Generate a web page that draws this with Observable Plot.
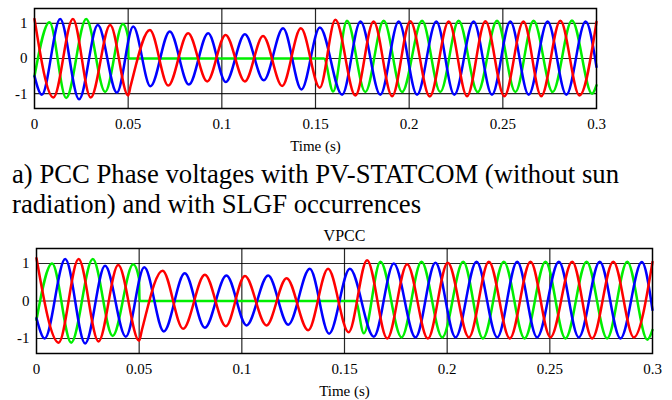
<!DOCTYPE html>
<html>
<head>
<meta charset="utf-8">
<script src="https://cdn.jsdelivr.net/npm/d3@7"></script>
<script src="https://cdn.jsdelivr.net/npm/@observablehq/plot@0.6"></script>
<style>
  html, body { margin: 0; padding: 0; background: #fff; }
  #wrap { position: relative; width: 672px; height: 400px; overflow: hidden; background: #fff; }
  #top { position: absolute; left: 0; top: 0; }
  #cap { position: absolute; left: 12px; top: 160px; font-family: "Liberation Serif", "Times New Roman", serif; font-size: 26.7px; line-height: 29.5px; color: #000; white-space: nowrap; }
  #bot { position: absolute; left: 0; top: 222px; }
  svg { display: block; }
</style>
</head>
<body>
<div id="wrap">
  <div id="top"></div>
  <div id="cap">a) PCC Phase voltages with PV-STATCOM (without sun<br>radiation) and with SLGF occurrences</div>
  <div id="bot"></div>
</div>
<script>
// Tick values and labels
const xTicks = [0, 0.05, 0.1, 0.15, 0.2, 0.25, 0.3];
const xTickLabels = ["0", "0.05", "0.1", "0.15", "0.2", "0.25", "0.3"];
const xGrid = [0.05, 0.1, 0.15, 0.2, 0.25];
const yTicks = [-1, 0, 1];
const yTickLabels = ["-1", "0", "1"];
const xLabel = "Time (s)";
const bottomTitle = "VPCC";

// Top panel: [time (s), voltage (pu)] at waveform peaks/troughs
const topRed = [[0,1.12],[0.0101,-1.11],[0.0205,1.12],[0.030,-1.11],[0.0404,0.95],[0.05,-1.05],[0.0513,-0.78],
  [0.0616,0.81],[0.0714,-0.77],[0.082,0.72],[0.0922,-0.65],[0.102,0.67],[0.1123,-0.65],[0.122,0.64],[0.1322,-0.78],
  [0.1422,0.86],[0.1523,-0.83],[0.1606,1.1],[0.1713,-1.05],[0.181,1.05],[0.1909,-1.07],[0.2006,1.06],[0.211,-1.08],
  [0.2211,1.05],[0.2309,-1.07],[0.2407,1.06],[0.2508,-1.07],[0.261,1.05],[0.2705,-1.07],[0.2807,1.07],[0.2909,-1.05],[0.3,1.04]];
const topBlue = [[0,-0.5],[0.0039,-1.03],[0.0137,1.12],[0.0238,-1.16],[0.0338,0.95],[0.044,-0.97],[0.0527,0.91],
  [0.0619,-0.79],[0.0722,0.77],[0.0824,-0.74],[0.0927,0.72],[0.1021,-0.67],[0.1123,0.69],[0.1224,-0.62],[0.1327,0.86],
  [0.1425,-0.88],[0.1523,0.88],[0.1642,-1.03],[0.174,1.05],[0.1846,-1.03],[0.1944,1.05],[0.2042,-1.03],[0.2145,1.05],
  [0.2241,-1.03],[0.2344,1.05],[0.2442,-1.03],[0.254,1.05],[0.2638,-1.03],[0.2739,1.05],[0.2839,-1.03],[0.2942,1.05],[0.3,-0.24]];
const topGreen = [[0,-0.5],[0.008,1.03],[0.0169,-1.12],[0.0276,1.12],[0.0377,-0.95],[0.0472,0.98],[0.0499,0.62],[0.0502,0],
  [0.1545,0],[0.1594,-0.94],[0.1668,1.07],[0.1766,-0.95],[0.1864,1.07],[0.1962,-0.95],[0.2069,1.07],[0.2166,-0.95],
  [0.2264,1.07],[0.2366,-0.95],[0.2469,1.07],[0.2567,-0.95],[0.2664,1.07],[0.2766,-0.95],[0.2869,1.08],[0.2976,-1.0],[0.3,-0.76]];

// Bottom panel (VPCC)
const botRed = [[0,1.14],[0.0108,-1.11],[0.0205,1.12],[0.0302,-1.08],[0.0398,0.96],[0.05,-1.06],[0.0513,-0.78],
  [0.0614,0.81],[0.0714,-0.74],[0.082,0.70],[0.0922,-0.67],[0.1015,0.67],[0.112,-0.65],[0.1218,0.61],[0.1323,-0.78],
  [0.142,0.86],[0.152,-0.83],[0.161,1.09],[0.1708,-1.0],[0.1805,0.98],[0.1906,-1.0],[0.2003,1.02],[0.2106,-0.97],
  [0.2203,1.05],[0.2305,-1.0],[0.2406,1.05],[0.2503,-0.97],[0.2609,1.05],[0.2706,-1.0],[0.2809,1.05],[0.2909,-0.97],[0.3,1.04]];
const botBlue = [[0,-0.46],[0.004,-1.0],[0.014,1.12],[0.0237,-1.13],[0.0334,0.94],[0.0435,-0.95],[0.0525,0.9],
  [0.062,-0.81],[0.0722,0.74],[0.082,-0.71],[0.0925,0.68],[0.1023,-0.65],[0.1128,0.68],[0.1226,-0.63],[0.1331,0.86],
  [0.1425,-0.87],[0.1526,0.86],[0.1643,-0.95],[0.174,1.0],[0.1846,-0.97],[0.1943,1.02],[0.2041,-0.97],[0.2143,1.05],
  [0.2244,-0.97],[0.2341,1.05],[0.2438,-0.97],[0.2544,1.05],[0.2641,-0.97],[0.2743,1.05],[0.2844,-1.0],[0.2948,1.04],[0.3,-0.24]];
const botGreen = [[0,-0.5],[0.0076,1.0],[0.0169,-1.11],[0.0274,1.12],[0.0371,-0.93],[0.0471,0.98],[0.0499,0.6],[0.0502,0],
  [0.1554,0],[0.1594,-0.86],[0.1675,1.05],[0.1778,-0.97],[0.1875,1.05],[0.1976,-0.97],[0.2078,1.05],[0.2174,-1.0],
  [0.2276,1.05],[0.2377,-1.0],[0.2479,1.05],[0.2576,-1.0],[0.2679,1.05],[0.2779,-1.0],[0.2877,1.05],[0.2975,-1.03],[0.3,-0.77]];

const colors = { red: "#ff0000", green: "#00ee00", blue: "#0000ff" };

function panel({red, green, blue, width, height, marginLeft, marginRight, marginTop, marginBottom, yDomain, title}) {
  const lineOpts = (c) => ({x: d => d[0], y: d => d[1], stroke: c, strokeWidth: 2.5, curve: "monotone-x"});
  const marks = [
    Plot.gridX(xGrid, {stroke: "#000", strokeOpacity: 0.85, strokeWidth: 1.2}),
    Plot.gridY(yTicks, {stroke: "#000", strokeOpacity: 0.85, strokeWidth: 1.2}),
    Plot.line(green, lineOpts(colors.green)),
    Plot.line(blue, lineOpts(colors.blue)),
    Plot.line(red, lineOpts(colors.red)),
    Plot.frame({stroke: "#000", strokeWidth: 1.5}),
    Plot.axisX(xTicks, {tickSize: 0, tickPadding: 10, fontSize: 15, tickFormat: d => xTickLabels[xTicks.indexOf(d)], label: null}),
    Plot.axisY(yTicks, {tickSize: 0, tickPadding: 7, fontSize: 15, tickFormat: d => yTickLabels[yTicks.indexOf(d)], label: null}),
    Plot.text([xLabel], {frameAnchor: "bottom", lineAnchor: "middle", dy: 38, fontSize: 15, text: d => d})
  ];
  if (title) marks.push(Plot.text([title], {frameAnchor: "top", lineAnchor: "middle", dy: -13, fontSize: 16, text: d => d}));
  return Plot.plot({
    width, height, marginLeft, marginRight, marginTop, marginBottom,
    style: {fontFamily: "'Liberation Serif', 'Times New Roman', serif", fontSize: "15px", background: "#fff", color: "#000"},
    x: {domain: [0, 0.3]},
    y: {domain: yDomain},
    marks
  });
}

document.getElementById("top").appendChild(panel({
  red: topRed, green: topGreen, blue: topBlue,
  width: 672, height: 155, marginLeft: 34, marginRight: 76, marginTop: 8, marginBottom: 47,
  yDomain: [-1.42, 1.42]
}));
document.getElementById("bot").appendChild(panel({
  red: botRed, green: botGreen, blue: botBlue,
  width: 672, height: 178, marginLeft: 36, marginRight: 20, marginTop: 26, marginBottom: 47,
  yDomain: [-1.4, 1.4], title: bottomTitle
}));
</script>
</body>
</html>
